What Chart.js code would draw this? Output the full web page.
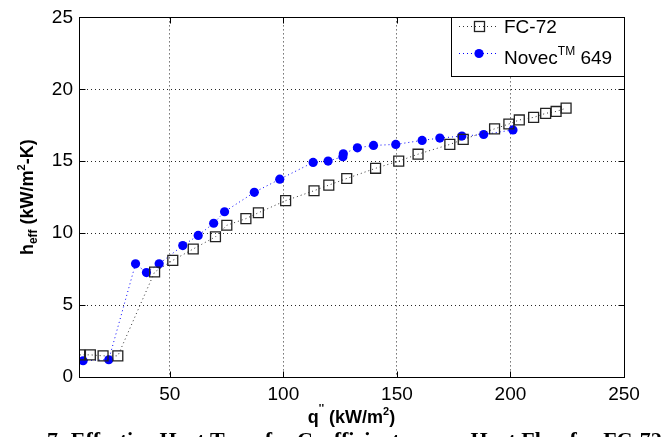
<!DOCTYPE html>
<html>
<head>
<meta charset="utf-8">
<script src="https://cdn.jsdelivr.net/npm/chart.js@4"></script>
<style>
  html, body { margin: 0; padding: 0; background: #fff; }
  #wrap { width: 662px; height: 437px; }
</style>
</head>
<body>
<div id="wrap"><canvas id="hChart" width="662" height="437"></canvas></div>
<script>
// Valori
const xTicks = [50, 100, 150, 200, 250];
const yTicks = [0, 5, 10, 15, 20, 25];

const fcX = [10.3, 15.0, 20.6, 27.1, 43.3, 51.3, 60.3, 70.1, 75.1, 83.5, 89.0, 101.0, 113.5, 120.0, 127.9, 140.6, 150.8, 159.3, 173.3, 179.2, 193.0, 199.3, 203.9, 210.2, 215.5, 220.1, 224.5];
const fcY = [1.54, 1.54, 1.47, 1.47, 7.30, 8.11, 8.90, 9.75, 10.55, 11.01, 11.42, 12.26, 12.95, 13.34, 13.80, 14.51, 15.01, 15.49, 16.17, 16.52, 17.25, 17.59, 17.87, 18.05, 18.33, 18.46, 18.69];

const novecX = [11.8, 23.1, 34.9, 39.7, 45.3, 55.7, 62.5, 69.3, 74.1, 87.2, 98.4, 113.1, 119.7, 126.2, 126.4, 132.6, 139.7, 149.5, 161.1, 168.9, 178.6, 188.2, 201.1];
const novecY = [1.13, 1.20, 7.87, 7.26, 7.87, 9.14, 9.84, 10.69, 11.49, 12.84, 13.75, 14.92, 15.01, 15.32, 15.52, 15.93, 16.10, 16.17, 16.45, 16.61, 16.75, 16.86, 17.18];

const FONT = '"Liberation Sans", Arial, sans-serif';

function toPoints(xs, ys) {
    return xs.map((x, i) => ({ x: x, y: ys[i] }));
}

// Disegna testo con apici/pedici, parti in sequenza
function drawParts(ctx, parts, x, y) {
    let cx = x;
    parts.forEach(p => {
        ctx.font = p.font;
        ctx.fillText(p.t, cx, y + (p.dy || 0));
        cx += ctx.measureText(p.t).width;
    });
}
function partsWidth(ctx, parts) {
    let w = 0;
    parts.forEach(p => { ctx.font = p.font; w += ctx.measureText(p.t).width; });
    return w;
}

const matlabPlugin = {
    id: 'matlabStyle',
    afterDraw(chart) {
        const ctx = chart.ctx;
        const a = chart.chartArea;
        const xs = chart.scales.x, ys = chart.scales.y;
        const L = Math.round(a.left) + 0.5, R = Math.round(a.right) + 0.5;
        const T = Math.round(a.top) + 0.5, B = Math.round(a.bottom) + 0.5;
        ctx.save();

        // box e tacche interne
        ctx.strokeStyle = '#000';
        ctx.lineWidth = 1;
        ctx.setLineDash([]);
        ctx.strokeRect(L, T, R - L, B - T);
        ctx.beginPath();
        xTicks.forEach(v => {
            const px = Math.round(xs.getPixelForValue(v)) + 0.5;
            ctx.moveTo(px, B); ctx.lineTo(px, B - 6);
            ctx.moveTo(px, T); ctx.lineTo(px, T + 6);
        });
        yTicks.forEach(v => {
            const py = Math.round(ys.getPixelForValue(v)) + 0.5;
            ctx.moveTo(L, py); ctx.lineTo(L + 6, py);
            ctx.moveTo(R, py); ctx.lineTo(R - 6, py);
        });
        ctx.stroke();

        // legenda
        const lx = 451.5, ly = T, lw = R - 451.5, lh = 59;
        ctx.fillStyle = '#fff';
        ctx.fillRect(lx, ly, lw, lh);
        ctx.strokeStyle = '#000';
        ctx.strokeRect(lx, ly, lw, lh);

        ctx.setLineDash([1, 3]);
        ctx.strokeStyle = '#333';
        ctx.beginPath(); ctx.moveTo(459, 26.5); ctx.lineTo(499, 26.5); ctx.stroke();
        ctx.strokeStyle = '#0000ff';
        ctx.beginPath(); ctx.moveTo(459, 53.5); ctx.lineTo(499, 53.5); ctx.stroke();
        ctx.setLineDash([]);
        ctx.strokeStyle = '#222';
        ctx.lineWidth = 1.3;
        ctx.strokeRect(474.5, 21.5, 10, 10);
        ctx.fillStyle = '#0000ff';
        ctx.beginPath(); ctx.arc(479, 53.5, 4.6, 0, Math.PI * 2); ctx.fill();

        ctx.fillStyle = '#000';
        ctx.textBaseline = 'alphabetic';
        ctx.textAlign = 'left';
        drawParts(ctx, [{ t: 'FC-72', font: '19px ' + FONT }], 504, 33);
        drawParts(ctx, [
            { t: 'Novec', font: '19px ' + FONT },
            { t: 'TM', font: '12px ' + FONT, dy: -9 },
            { t: ' 649', font: '19px ' + FONT }
        ], 504, 64);

        // titolo asse x
        const xParts = [
            { t: 'q', font: 'bold 18px ' + FONT },
            { t: "''", font: 'bold 11px ' + FONT, dy: -11 },
            { t: ' (kW/m', font: 'bold 18px ' + FONT },
            { t: '2', font: 'bold 11px ' + FONT, dy: -8 },
            { t: ')', font: 'bold 18px ' + FONT }
        ];
        const xw = partsWidth(ctx, xParts);
        drawParts(ctx, xParts, (a.left + a.right) / 2 - xw / 2, 423);

        // titolo asse y
        const yParts = [
            { t: 'h', font: 'bold 18px ' + FONT },
            { t: 'eff', font: 'bold 12px ' + FONT, dy: 4 },
            { t: ' (kW/m', font: 'bold 18px ' + FONT },
            { t: '2', font: 'bold 11px ' + FONT, dy: -8 },
            { t: '-K)', font: 'bold 18px ' + FONT }
        ];
        const yw = partsWidth(ctx, yParts);
        ctx.translate(33, (a.top + a.bottom) / 2);
        ctx.rotate(-Math.PI / 2);
        drawParts(ctx, yParts, -yw / 2, 0);
        ctx.setTransform(1, 0, 0, 1, 0, 0);

        // didascalia tagliata in basso
        ctx.font = 'bold 22px "Liberation Serif", "Times New Roman", serif';
        ctx.fillText('7: Effective Heat Transfer Coefficient versus Heat Flux for FC-72', 47, 447);
        ctx.restore();
    }
};

new Chart(document.getElementById('hChart'), {
    type: 'scatter',
    data: {
        datasets: [{
            label: 'FC-72',
            data: toPoints(fcX, fcY),
            showLine: true,
            borderColor: '#333',
            borderWidth: 1,
            borderDash: [1, 3],
            pointStyle: 'rect',
            pointRadius: 7,
            pointBorderWidth: 1.3,
            pointBorderColor: '#222',
            pointBackgroundColor: 'rgba(0,0,0,0)'
        }, {
            label: 'Novec 649',
            data: toPoints(novecX, novecY),
            showLine: true,
            borderColor: '#0000ff',
            borderWidth: 1,
            borderDash: [1, 3],
            pointStyle: 'circle',
            pointRadius: 4.6,
            pointBorderWidth: 0,
            pointBackgroundColor: '#0000ff'
        }]
    },
    options: {
        responsive: false,
        animation: false,
        devicePixelRatio: 1,
        layout: { padding: { top: 12, right: 38, left: 0, bottom: 0 } },
        plugins: {
            legend: { display: false },
            tooltip: { enabled: false }
        },
        scales: {
            x: {
                type: 'linear',
                min: 10,
                max: 250,
                afterBuildTicks: s => { s.ticks = xTicks.map(v => ({ value: v })); },
                afterFit: s => { s.height = 60; },
                grid: { color: 'rgba(0,0,0,0.85)', lineWidth: 1, drawTicks: false },
                border: { display: false, dash: [1, 3] },
                ticks: { padding: 6, color: '#000', font: { family: FONT, size: 19 }, maxRotation: 0 }
            },
            y: {
                type: 'linear',
                min: 0,
                max: 25,
                afterBuildTicks: s => { s.ticks = yTicks.map(v => ({ value: v })); },
                afterFit: s => { s.width = 79; },
                grid: { color: 'rgba(0,0,0,0.85)', lineWidth: 1, drawTicks: false },
                border: { display: false, dash: [1, 3] },
                ticks: { padding: 6, color: '#000', font: { family: FONT, size: 19 } }
            }
        }
    },
    plugins: [matlabPlugin]
});
</script>
</body>
</html>
